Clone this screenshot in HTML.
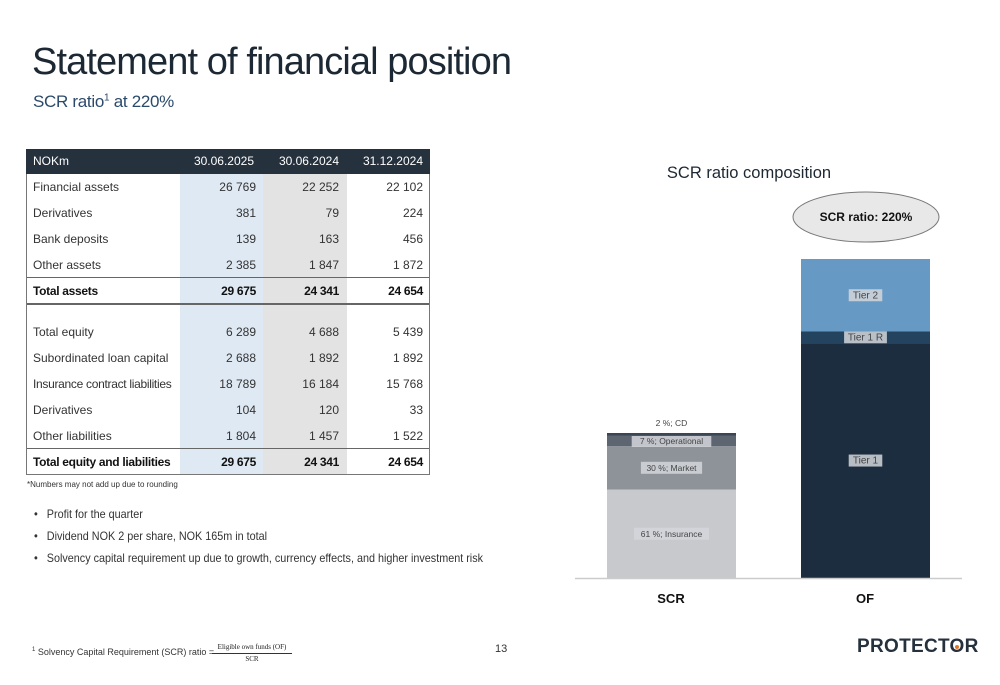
<!DOCTYPE html>
<html><head><meta charset="utf-8"><style>
*{margin:0;padding:0;box-sizing:border-box}
body{width:1000px;height:685px;background:#fff;font-family:"Liberation Sans",sans-serif;color:#1a1a1a;position:relative;overflow:hidden}
.a{position:absolute;white-space:nowrap}
.r{position:absolute;font-size:12px;color:#333;height:26px;line-height:26px}
.num{position:absolute;text-align:right;width:80px}
</style></head><body>
<div class="a" style="left:32px;top:41px;font-size:38px;color:#1c2833;letter-spacing:-0.9px">Statement of financial position</div>
<div class="a" style="left:33px;top:92px;font-size:17px;color:#2b4a6b;letter-spacing:-0.3px">SCR ratio<sup style="font-size:10px">1</sup> at 220%</div>

<div style="position:absolute;left:26px;top:149px;width:404px;height:326px;border:1px solid #777;border-top:none">
 <div style="position:absolute;left:153px;top:25px;width:83px;height:300px;background:#dfe9f3"></div>
 <div style="position:absolute;left:236px;top:25px;width:84px;height:300px;background:#e3e3e3"></div>
 <div style="position:absolute;left:-1px;top:0;width:404px;height:25px;background:#25313d;color:#fff;font-size:12px;line-height:25px">
  <span class="a" style="left:7px">NOKm</span>
  <span class="a" style="right:176px">30.06.2025</span>
  <span class="a" style="right:91px">30.06.2024</span>
  <span class="a" style="right:7px">31.12.2024</span>
 </div>
 <div style="position:absolute;left:0;top:128px;width:402px;border-top:1px solid #666"></div>
 <div style="position:absolute;left:0;top:154px;width:402px;border-top:2px solid #666"></div>
 <div style="position:absolute;left:0;top:299px;width:402px;border-top:1px solid #666"></div>
 <div id="rows"></div>
</div>
<div class="a" style="left:27px;top:480px;font-size:8px;color:#333">*Numbers may not add up due to rounding</div>

<ul style="position:absolute;left:34px;top:507px;font-size:12px;color:#333;list-style:none;transform:scaleX(0.9);transform-origin:0 0">
 <li style="height:22px">•&nbsp;&nbsp;&nbsp;Profit for the quarter</li>
 <li style="height:22px">•&nbsp;&nbsp;&nbsp;Dividend NOK 2 per share, NOK 165m in total</li>
 <li style="height:22px">•&nbsp;&nbsp;&nbsp;Solvency capital requirement up due to growth, currency effects, and higher investment risk</li>
</ul>

<div class="a" style="left:32px;top:647px;font-size:9px;color:#333"><sup style="font-size:6px">1</sup> Solvency Capital Requirement (SCR) ratio = </div>
<div class="a" style="left:212px;top:642px;font-size:7px;font-family:'Liberation Serif',serif;text-align:center;width:80px;line-height:11px"><div style="border-bottom:1px solid #333">Eligible own funds (OF)</div><div>SCR</div></div>
<div class="a" style="left:495px;top:643px;font-size:11px;color:#333">13</div>
<div class="a" style="left:857px;top:636px;font-size:19px;font-weight:bold;color:#25313d;letter-spacing:0.3px">PROTECT<span style="color:#25313d;position:relative">O<span style="position:absolute;left:5px;top:9px;width:4px;height:4px;background:#e07a2b;border-radius:50%"></span></span>R</div>

<svg id="chart" style="position:absolute;left:0;top:0" width="1000" height="685"></svg>

<script>
const rowLabels=["Financial assets","Derivatives","Bank deposits","Other assets","Total assets","Total equity","Subordinated loan capital","Insurance contract liabilities","Derivatives","Other liabilities","Total equity and liabilities"];
const col2025=["26 769","381","139","2 385","29 675","6 289","2 688","18 789","104","1 804","29 675"];
const col2024=["22 252","79","163","1 847","24 341","4 688","1 892","16 184","120","1 457","24 341"];
const colDec=["22 102","224","456","1 872","24 654","5 439","1 892","15 768","33","1 522","24 654"];
const rowTops=[25,51,77,103,129,170,196,222,248,274,300];
const rc=document.getElementById('rows');
rowLabels.forEach((l,i)=>{
 const d=document.createElement('div');
 d.className='r';
 
 
 const bold=(i==4||i==10);
 d.style.top=rowTops[i]+'px';d.style.left='0';d.style.width='402px';
 if(bold){d.style.fontWeight='bold';d.style.color='#111';d.style.letterSpacing='-0.3px'}
 d.innerHTML=`<span class="a" style="left:6px;${i==7?'letter-spacing:-0.3px':''}">${l}</span><span class="num" style="left:149px">${col2025[i]}</span><span class="num" style="left:232px">${col2024[i]}</span><span class="num" style="left:316px">${colDec[i]}</span>`;
 rc.appendChild(d);
});

const scrLabels=["61 %; Insurance","30 %; Market","7 %; Operational","2 %; CD"];
const scrValues=[61,30,7,2];
const scrColors=["#c8c9cc","#8e939a","#5d6570","#3b4553"];
const ofLabels=["Tier 1","Tier 1 R","Tier 2"];
const ofValues=[162,8,50];
const ofColors=["#1b2d3e","#24435e","#6699c3"];
const svg=document.getElementById('chart');
const NS='http://www.w3.org/2000/svg';
const base=578, k=1.45;
const y=v=>base-v*k;
function mk(t,a){const e=document.createElementNS(NS,t);for(const n in a)e.setAttribute(n,a[n]);svg.appendChild(e);return e;}
const title=mk('text',{x:749,y:178,'text-anchor':'middle','font-size':16.5,fill:'#1c2833','font-family':'Liberation Sans'});
title.textContent='SCR ratio composition';


function stack(x,w,vals,cols,labs,name){
 let c=0;
 vals.forEach((v,i)=>{
  const r=mk('rect',{x:x,y:y(c+v),width:w,height:v*k,fill:cols[i]});
  
  
  const mid=y(c+v/2);
  let ly=mid+3;
  const outside=(name=='scr'&&i==3);
  if(outside) ly=y(c+v)-7;
  const tw=labs[i].length*4.6+6;
  if(!outside){const b=mk('rect',{x:x+w/2-tw/2,y:ly-9,width:tw,height:12,fill:'#d3d6da',opacity:0.85});
   }
  const t=mk('text',{x:x+w/2,y:ly,'text-anchor':'middle','font-size':name=='of'?10:8.5,fill:'#444','font-family':'Liberation Sans'});
  t.textContent=labs[i];
  
  
  c+=v;
 });
}
stack(607,129,scrValues,scrColors,scrLabels,'scr');
stack(801,129,ofValues,ofColors,ofLabels,'of');
const ax=mk('line',{x1:575,x2:962,y1:base+0.5,y2:base+0.5,stroke:'#ccc','stroke-width':1.5});

[["SCR",671],["OF",865]].forEach(([s,x])=>{const t=mk('text',{x:x,y:603,'text-anchor':'middle','font-size':13,'font-weight':'bold',fill:'#111','font-family':'Liberation Sans'});t.textContent=s;
});
const el=mk('ellipse',{cx:866,cy:217,rx:73,ry:25,fill:'#e8e8e8',stroke:'#777','stroke-width':1});

const et=mk('text',{x:866,y:221,'text-anchor':'middle','font-size':12,'font-weight':'bold',fill:'#111','font-family':'Liberation Sans'});
et.textContent='SCR ratio: 220%';

</script>
</body></html>
